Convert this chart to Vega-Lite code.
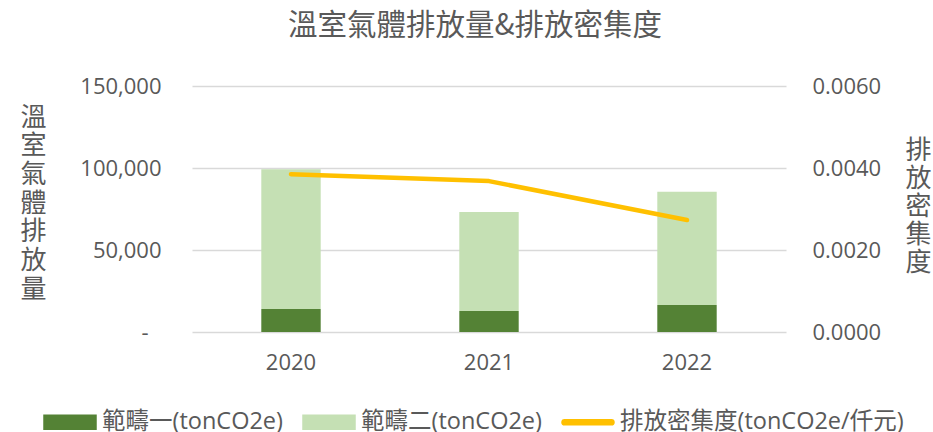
{
  "$schema": "https://vega.github.io/schema/vega-lite/v6.json",
  "width": 594,
  "height": 246,
  "autosize": {"type": "none"},
  "padding": {"left": 192, "top": 86, "right": 147, "bottom": 100},
  "background": "white",
  "title": {
    "text": "溫室氣體排放量&排放密集度",
    "font": "Noto Sans CJK TC",
    "fontSize": 29.5,
    "fontWeight": "normal",
    "color": "#595959",
    "anchor": "middle",
    "dx": -14,
    "offset": 34
  },
  "config": {
    "view": {"stroke": null},
    "axis": {
      "labelFont": "Open Sans",
      "labelFontSize": 22,
      "labelColor": "#595959",
      "titleFont": "Noto Sans CJK TC",
      "titleFontWeight": "normal",
      "titleColor": "#595959"
    }
  },
  "data": {
    "values": [
      {"year": "2020", "series": "範疇一(tonCO2e)", "value": 14000},
      {"year": "2020", "series": "範疇二(tonCO2e)", "value": 85200},
      {"year": "2020", "series": "排放密集度(tonCO2e/仟元)", "value": 0.00385},
      {"year": "2021", "series": "範疇一(tonCO2e)", "value": 12800},
      {"year": "2021", "series": "範疇二(tonCO2e)", "value": 60400},
      {"year": "2021", "series": "排放密集度(tonCO2e/仟元)", "value": 0.00368},
      {"year": "2022", "series": "範疇一(tonCO2e)", "value": 16500},
      {"year": "2022", "series": "範疇二(tonCO2e)", "value": 69000},
      {"year": "2022", "series": "排放密集度(tonCO2e/仟元)", "value": 0.00273}
    ]
  },
  "encoding": {
    "x": {
      "field": "year",
      "type": "ordinal",
      "scale": {"paddingInner": 0.7, "paddingOuter": 0.35},
      "axis": {
        "title": null,
        "labelAngle": 0,
        "domain": false,
        "ticks": false,
        "grid": false,
        "labelPadding": 20
      }
    }
  },
  "layer": [
    {
      "transform": [{"filter": "datum.series !== '排放密集度(tonCO2e/仟元)'"}],
      "mark": {"type": "bar"},
      "encoding": {
        "y": {
          "field": "value",
          "type": "quantitative",
          "stack": "zero",
          "scale": {"domain": [0, 150000]},
          "axis": {
            "values": [0, 50000, 100000, 150000],
            "labelExpr": "datum.value === 0 ? '-' : format(datum.value, ',')",
            "domain": false,
            "ticks": false,
            "grid": true,
            "gridColor": "#D9D9D9",
            "gridWidth": 1.3,
            "labelPadding": {"condition": {"test": "datum.value === 0", "value": 44}, "value": 31},
            "title": ["溫", "室", "氣", "體", "排", "放", "量"],
            "titleAngle": 0,
            "titleFontSize": 26,
            "titleLineHeight": 28.7,
            "titleAlign": "center",
            "titleBaseline": "middle",
            "titleX": -159,
            "titleY": 31
          }
        },
        "color": {
          "field": "series",
          "type": "nominal",
          "scale": {
            "domain": ["範疇一(tonCO2e)", "範疇二(tonCO2e)", "排放密集度(tonCO2e/仟元)"],
            "range": ["#548235", "#C5E0B4", "#FFC000"]
          },
          "legend": {
            "orient": "none",
            "legendX": -149,
            "legendY": 309,
            "direction": "horizontal",
            "title": null,
            "labelFont": "Open Sans, Noto Sans CJK TC",
            "labelFontSize": 23.5,
            "labelColor": "#595959",
            "labelLimit": 400,
            "labelOffset": 5,
            "columnPadding": 16,
            "symbolSize": 2704,
            "symbolType": "M-1,-0.27H1V0.27H-1Z",
            "encode": {
              "symbols": {
                "update": {
                  "shape": {"signal": "datum.value === '排放密集度(tonCO2e/仟元)' ? 'M-0.9,-0.1H0.9A0.1,0.1 0 0 1 0.9,0.1H-0.9A0.1,0.1 0 0 1 -0.9,-0.1Z' : 'M-1,-0.27H1V0.27H-1Z'"},
                  "fill": {"signal": "scale('color', datum.value)"},
                  "stroke": {"value": "transparent"},
                  "opacity": {"value": 1},
                  "fillOpacity": {"value": 1}
                }
              }
            }
          }
        },
        "order": {"field": "series", "sort": "ascending"}
      }
    },
    {
      "transform": [{"filter": "datum.series === '排放密集度(tonCO2e/仟元)'"}],
      "mark": {"type": "line", "strokeWidth": 4.5, "strokeCap": "round", "strokeJoin": "round"},
      "encoding": {
        "y": {
          "field": "value",
          "type": "quantitative",
          "scale": {"domain": [0, 0.006]},
          "axis": {
            "orient": "right",
            "values": [0, 0.002, 0.004, 0.006],
            "format": ".4f",
            "domain": false,
            "ticks": false,
            "grid": false,
            "labelPadding": 26,
            "title": ["排", "放", "密", "集", "度"],
            "titleAngle": 0,
            "titleFontSize": 26,
            "titleLineHeight": 28,
            "titleAlign": "center",
            "titleBaseline": "middle",
            "titleX": 132,
            "titleY": 64
          }
        },
        "color": {
          "field": "series",
          "type": "nominal",
          "legend": {
            "orient": "none",
            "legendX": -149,
            "legendY": 309,
            "direction": "horizontal",
            "title": null
          }
        }
      }
    }
  ],
  "resolve": {"scale": {"y": "independent"}}
}
